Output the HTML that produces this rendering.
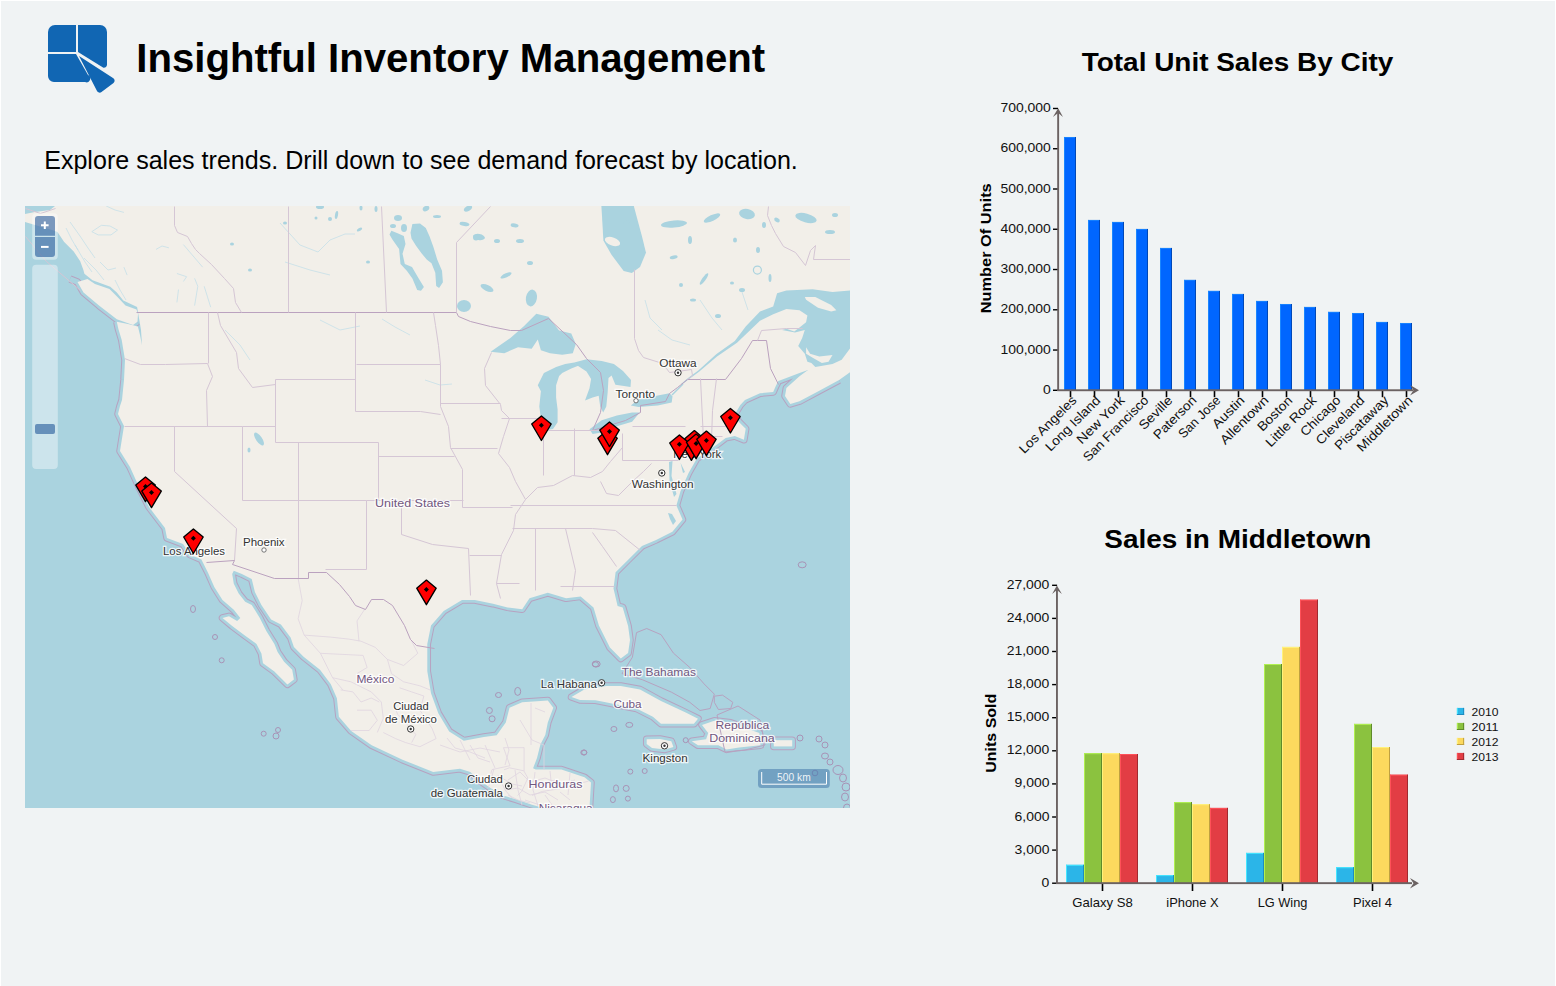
<!DOCTYPE html>
<html><head><meta charset="utf-8"><style>
html,body{margin:0;padding:0;background:#fff;width:1556px;height:986px;overflow:hidden}
#pg{position:absolute;left:1px;top:1px;width:1554px;height:985px;background:#f0f3f4}
.t{position:absolute;font-family:"Liberation Sans",sans-serif;white-space:nowrap;color:#000}
svg{position:absolute;left:0;top:0}
</style></head><body>
<div id="pg"></div>
<svg width="1556" height="986" viewBox="0 0 1556 986" font-family="Liberation Sans, sans-serif">
<defs><clipPath id="mapclip"><rect x="25" y="206" width="825" height="602"/></clipPath></defs>
<path d="M48,32 a7,7 0 0 1 7,-7 h21 v27 h-28z" fill="#1166b3"/>
<path d="M78,25 h22 a7,7 0 0 1 7,7 v33 a3,3 0 0 1 -4,2.5 l-25,-15.5z" fill="#1166b3"/>
<path d="M48,54 h28 l12,21 a3,3 0 0 1 -3,7 h-31 a6,6 0 0 1 -6,-6z" fill="#1166b3"/>
<path d="M79,56 l34,22 a3,3 0 0 1 0.5,5 l-12,9 a3,3 0 0 1 -4.5,-1z" fill="#1166b3"/>
<rect x="25" y="206" width="825" height="602" fill="#aad3df"/>
<g clip-path="url(#mapclip)">
<path d="M839.1,380.1 L819.3,390.7 L799.5,401.2 L790.3,403.9 L785.0,396.0 L786.4,388.0 L799.5,376.2 L808.0,370.0 L799.5,373.0 L786.4,378.0 L778.4,381.0 L775.8,386.0 L773.2,392.0 L760.0,393.3 L745.0,400.0 L740.3,405.0 L734.8,414.2 L738.4,421.5 L745.7,428.8 L743.9,439.7 L734.8,436.1 L725.7,437.9 L717.0,444.5 L696.7,458.7 L688.6,473.0 L680.5,491.2 L676.4,505.4 L682.5,519.6 L672.4,531.8 L656.1,539.9 L642.0,546.0 L627.7,560.2 L615.6,572.3 L613.5,588.6 L617.6,606.0 L622.7,607.4 L628.1,626.0 L630.0,640.0 L628.1,653.0 L620.8,658.5 L609.9,647.6 L598.9,625.6 L593.5,607.4 L580.7,596.4 L566.1,598.3 L547.8,592.8 L529.5,598.3 L522.2,609.2 L507.6,607.4 L493.0,603.7 L474.8,600.1 L462.0,600.1 L443.7,611.0 L431.0,625.6 L427.3,643.9 L427.3,671.3 L431.0,693.2 L438.3,713.3 L449.2,731.5 L463.8,740.7 L483.9,737.0 L496.7,735.2 L505.8,722.4 L509.5,707.8 L522.2,702.3 L547.8,700.5 L553.3,707.8 L547.8,722.4 L545.3,735.0 L540.5,744.3 L539.5,748.0 L537.0,758.0 L533.1,768.3 L535.7,769.6 L561.4,769.6 L584.5,777.3 L591.0,782.4 L589.7,804.3 L589.6,812.0 L539.2,812.0" fill="none" stroke="#b7a2c0" stroke-width="7.5" stroke-linejoin="round"/>
<path d="M539.2,806.8 L532.0,804.8 L516.6,799.6 L503.2,795.5 L490.8,788.3 L480.6,781.1 L470.3,771.9 L460.0,768.8 L433.2,772.0 L402.5,759.7 L371.7,745.3 L351.2,731.0 L338.9,716.7 L336.9,698.2 L330.7,683.9 L320.0,669.8 L303.6,656.8 L293.9,647.1 L290.6,637.4 L280.9,624.4 L271.1,619.5 L261.4,604.9 L254.9,591.9 L251.7,579.0 L241.9,574.1 L233.8,570.8 L232.2,574.1 L233.8,583.8 L238.7,593.6 L245.2,601.7 L251.7,604.9 L259.8,617.9 L266.3,630.9 L274.4,643.9 L277.6,652.0 L284.1,661.7 L292.2,669.8 L293.9,679.6 L287.4,684.4 L274.4,671.5 L263.0,663.3 L261.4,653.6 L256.5,643.9 L245.2,635.7 L232.2,626.0 L222.5,617.9 L229.0,616.3 L237.1,621.1 L240.3,617.9 L233.8,609.8 L222.5,600.0 L214.3,587.1 L207.9,572.5 L203.0,562.7 L201.4,559.5 L190.0,554.6 L183.0,544.0 L167.0,538.0 L165.0,528.0 L149.0,507.0 L139.0,487.0 L130.0,467.0 L120.0,451.0 L124.0,426.0 L118.0,414.0 L120.0,406.0 L122.0,400.0 L124.0,380.0 L125.0,360.0 L121.7,340.0 L118.4,329.0 L116.8,321.7" fill="none" stroke="#b7a2c0" stroke-width="7.5" stroke-linejoin="round"/>
<path d="M137.5,321.7 L133.0,324.9 L116.8,319.3 L99.0,305.5 L83.5,292.5 L77.5,282.0 L70.0,279.0" fill="none" stroke="#b7a2c0" stroke-width="7.5" stroke-linejoin="round"/>
<path d="M571.5,697.0 L584.3,689.5 L606.2,686.0 L620.8,686.0 L640.0,689.5 L661.0,701.0 L685.7,712.6 L698.0,718.7 L693.9,723.8 L661.0,723.8 L652.9,716.7 L636.5,708.5 L605.7,702.3 L595.5,700.3 L580.0,700.0Z" fill="none" stroke="#b7a2c0" stroke-width="7.5" stroke-linejoin="round"/>
<path d="M646.7,739.2 L660.0,739.0 L671.3,741.2 L673.4,747.0 L665.0,749.4 L652.0,748.0 L646.7,744.0Z" fill="none" stroke="#b7a2c0" stroke-width="7.5" stroke-linejoin="round"/>
<path d="M702.0,724.9 L714.3,720.8 L730.7,722.8 L759.4,733.0 L760.5,745.3 L739.0,747.4 L726.6,749.4 L718.4,745.3 L698.0,745.3 L691.8,741.2 L706.1,739.2 L708.2,733.0Z" fill="none" stroke="#b7a2c0" stroke-width="7.5" stroke-linejoin="round"/>
<path d="M773.8,740.2 L792.2,740.2 L792.2,746.4 L773.8,746.4Z" fill="none" stroke="#b7a2c0" stroke-width="7.5" stroke-linejoin="round"/>
<path d="M839.1,380.1 L819.3,390.7 L799.5,401.2 L790.3,403.9 L785.0,396.0 L786.4,388.0 L799.5,376.2 L808.0,370.0 L799.5,373.0 L786.4,378.0 L778.4,381.0 L775.8,386.0 L773.2,392.0 L760.0,393.3 L745.0,400.0 L740.3,405.0 L734.8,414.2 L738.4,421.5 L745.7,428.8 L743.9,439.7 L734.8,436.1 L725.7,437.9 L717.0,444.5 L696.7,458.7 L688.6,473.0 L680.5,491.2 L676.4,505.4 L682.5,519.6 L672.4,531.8 L656.1,539.9 L642.0,546.0 L627.7,560.2 L615.6,572.3 L613.5,588.6 L617.6,606.0 L622.7,607.4 L628.1,626.0 L630.0,640.0 L628.1,653.0 L620.8,658.5 L609.9,647.6 L598.9,625.6 L593.5,607.4 L580.7,596.4 L566.1,598.3 L547.8,592.8 L529.5,598.3 L522.2,609.2 L507.6,607.4 L493.0,603.7 L474.8,600.1 L462.0,600.1 L443.7,611.0 L431.0,625.6 L427.3,643.9 L427.3,671.3 L431.0,693.2 L438.3,713.3 L449.2,731.5 L463.8,740.7 L483.9,737.0 L496.7,735.2 L505.8,722.4 L509.5,707.8 L522.2,702.3 L547.8,700.5 L553.3,707.8 L547.8,722.4 L545.3,735.0 L540.5,744.3 L539.5,748.0 L537.0,758.0 L533.1,768.3 L535.7,769.6 L561.4,769.6 L584.5,777.3 L591.0,782.4 L589.7,804.3 L589.6,812.0 L539.2,812.0" fill="none" stroke="#aad3df" stroke-width="5.5" stroke-linejoin="round"/>
<path d="M539.2,806.8 L532.0,804.8 L516.6,799.6 L503.2,795.5 L490.8,788.3 L480.6,781.1 L470.3,771.9 L460.0,768.8 L433.2,772.0 L402.5,759.7 L371.7,745.3 L351.2,731.0 L338.9,716.7 L336.9,698.2 L330.7,683.9 L320.0,669.8 L303.6,656.8 L293.9,647.1 L290.6,637.4 L280.9,624.4 L271.1,619.5 L261.4,604.9 L254.9,591.9 L251.7,579.0 L241.9,574.1 L233.8,570.8 L232.2,574.1 L233.8,583.8 L238.7,593.6 L245.2,601.7 L251.7,604.9 L259.8,617.9 L266.3,630.9 L274.4,643.9 L277.6,652.0 L284.1,661.7 L292.2,669.8 L293.9,679.6 L287.4,684.4 L274.4,671.5 L263.0,663.3 L261.4,653.6 L256.5,643.9 L245.2,635.7 L232.2,626.0 L222.5,617.9 L229.0,616.3 L237.1,621.1 L240.3,617.9 L233.8,609.8 L222.5,600.0 L214.3,587.1 L207.9,572.5 L203.0,562.7 L201.4,559.5 L190.0,554.6 L183.0,544.0 L167.0,538.0 L165.0,528.0 L149.0,507.0 L139.0,487.0 L130.0,467.0 L120.0,451.0 L124.0,426.0 L118.0,414.0 L120.0,406.0 L122.0,400.0 L124.0,380.0 L125.0,360.0 L121.7,340.0 L118.4,329.0 L116.8,321.7" fill="none" stroke="#aad3df" stroke-width="5.5" stroke-linejoin="round"/>
<path d="M137.5,321.7 L133.0,324.9 L116.8,319.3 L99.0,305.5 L83.5,292.5 L77.5,282.0 L70.0,279.0" fill="none" stroke="#aad3df" stroke-width="5.5" stroke-linejoin="round"/>
<path d="M571.5,697.0 L584.3,689.5 L606.2,686.0 L620.8,686.0 L640.0,689.5 L661.0,701.0 L685.7,712.6 L698.0,718.7 L693.9,723.8 L661.0,723.8 L652.9,716.7 L636.5,708.5 L605.7,702.3 L595.5,700.3 L580.0,700.0Z" fill="none" stroke="#aad3df" stroke-width="5.5" stroke-linejoin="round"/>
<path d="M646.7,739.2 L660.0,739.0 L671.3,741.2 L673.4,747.0 L665.0,749.4 L652.0,748.0 L646.7,744.0Z" fill="none" stroke="#aad3df" stroke-width="5.5" stroke-linejoin="round"/>
<path d="M702.0,724.9 L714.3,720.8 L730.7,722.8 L759.4,733.0 L760.5,745.3 L739.0,747.4 L726.6,749.4 L718.4,745.3 L698.0,745.3 L691.8,741.2 L706.1,739.2 L708.2,733.0Z" fill="none" stroke="#aad3df" stroke-width="5.5" stroke-linejoin="round"/>
<path d="M773.8,740.2 L792.2,740.2 L792.2,746.4 L773.8,746.4Z" fill="none" stroke="#aad3df" stroke-width="5.5" stroke-linejoin="round"/>
<path d="M56.0,206.0 L850.0,206.0 L850.0,290.5 L832.5,291.9 L812.7,289.2 L786.4,290.5 L777.1,293.2 L773.2,306.4 L760.0,311.6 L745.7,326.5 L734.8,341.1 L716.5,353.9 L698.3,370.4 L688.0,378.0 L681.0,384.0 L682.5,384.0 L699.0,371.8 L717.0,356.5 L737.0,342.8 L760.0,320.8 L773.2,314.3 L786.4,309.0 L799.5,310.3 L807.4,315.6 L806.1,322.2 L799.5,327.4 L794.3,331.4 L786.4,328.8 L782.0,330.0 L795.0,332.5 L804.8,330.1 L802.2,338.0 L798.2,345.9 L804.8,353.8 L807.4,361.7 L811.4,363.0 L815.3,367.0 L832.5,364.0 L841.7,359.7 L850.0,348.5 L850.0,372.2 L839.1,380.1 L819.3,390.7 L799.5,401.2 L790.3,403.9 L785.0,396.0 L786.4,388.0 L799.5,376.2 L808.0,370.0 L799.5,373.0 L786.4,378.0 L778.4,381.0 L775.8,386.0 L773.2,392.0 L760.0,393.3 L745.0,400.0 L740.3,405.0 L734.8,414.2 L738.4,421.5 L745.7,428.8 L743.9,439.7 L734.8,436.1 L725.7,437.9 L717.0,444.5 L696.7,458.7 L688.6,473.0 L680.5,491.2 L676.4,505.4 L682.5,519.6 L672.4,531.8 L656.1,539.9 L642.0,546.0 L627.7,560.2 L615.6,572.3 L613.5,588.6 L617.6,606.0 L622.7,607.4 L628.1,626.0 L630.0,640.0 L628.1,653.0 L620.8,658.5 L609.9,647.6 L598.9,625.6 L593.5,607.4 L580.7,596.4 L566.1,598.3 L547.8,592.8 L529.5,598.3 L522.2,609.2 L507.6,607.4 L493.0,603.7 L474.8,600.1 L462.0,600.1 L443.7,611.0 L431.0,625.6 L427.3,643.9 L427.3,671.3 L431.0,693.2 L438.3,713.3 L449.2,731.5 L463.8,740.7 L483.9,737.0 L496.7,735.2 L505.8,722.4 L509.5,707.8 L522.2,702.3 L547.8,700.5 L553.3,707.8 L547.8,722.4 L545.3,735.0 L540.5,744.3 L539.5,748.0 L537.0,758.0 L533.1,768.3 L535.7,769.6 L561.4,769.6 L584.5,777.3 L591.0,782.4 L589.7,804.3 L589.6,812.0 L539.2,812.0 L539.2,806.8 L532.0,804.8 L516.6,799.6 L503.2,795.5 L490.8,788.3 L480.6,781.1 L470.3,771.9 L460.0,768.8 L433.2,772.0 L402.5,759.7 L371.7,745.3 L351.2,731.0 L338.9,716.7 L336.9,698.2 L330.7,683.9 L320.0,669.8 L303.6,656.8 L293.9,647.1 L290.6,637.4 L280.9,624.4 L271.1,619.5 L261.4,604.9 L254.9,591.9 L251.7,579.0 L241.9,574.1 L233.8,570.8 L232.2,574.1 L233.8,583.8 L238.7,593.6 L245.2,601.7 L251.7,604.9 L259.8,617.9 L266.3,630.9 L274.4,643.9 L277.6,652.0 L284.1,661.7 L292.2,669.8 L293.9,679.6 L287.4,684.4 L274.4,671.5 L263.0,663.3 L261.4,653.6 L256.5,643.9 L245.2,635.7 L232.2,626.0 L222.5,617.9 L229.0,616.3 L237.1,621.1 L240.3,617.9 L233.8,609.8 L222.5,600.0 L214.3,587.1 L207.9,572.5 L203.0,562.7 L201.4,559.5 L190.0,554.6 L183.0,544.0 L167.0,538.0 L165.0,528.0 L149.0,507.0 L139.0,487.0 L130.0,467.0 L120.0,451.0 L124.0,426.0 L118.0,414.0 L120.0,406.0 L122.0,400.0 L124.0,380.0 L125.0,360.0 L121.7,340.0 L118.4,329.0 L116.8,321.7 L128.0,324.0 L137.9,326.6 L140.0,335.0 L142.0,345.0 L141.0,330.0 L139.0,318.0 L137.1,307.1 L123.3,300.6 L116.8,292.5 L110.3,286.8 L92.5,280.3 L84.4,273.8 L83.4,270.0 L80.2,261.2 L73.7,251.5 L64.0,241.7 L57.5,232.0 L52.0,230.0 L45.0,228.0 L35.0,225.0 L25.0,222.0 L25.0,214.0 L35.0,212.0 L50.0,210.0 L55.0,206.0Z" fill="#f2efe9"/>
<path d="M77.5,282.0 L87.5,279.0 L95.0,284.0 L109.5,289.0 L117.5,297.0 L125.5,305.5 L136.5,309.5 L138.0,314.0 L137.5,321.7 L133.0,324.9 L116.8,319.3 L99.0,305.5 L83.5,292.5Z" fill="#f2efe9"/>
<path d="M804.8,297.1 L815.3,297.1 L831.2,305.0 L836.4,310.3 L831.2,311.6 L818.0,307.7 L806.1,299.8Z" fill="#f2efe9"/>
<path d="M806.1,347.2 L810.1,353.8 L819.3,356.4 L832.5,355.1 L828.5,361.7 L821.9,363.0 L812.7,357.7 L806.1,353.8Z" fill="#f2efe9"/>
<path d="M571.5,697.0 L584.3,689.5 L606.2,686.0 L620.8,686.0 L640.0,689.5 L661.0,701.0 L685.7,712.6 L698.0,718.7 L693.9,723.8 L661.0,723.8 L652.9,716.7 L636.5,708.5 L605.7,702.3 L595.5,700.3 L580.0,700.0Z" fill="#f2efe9"/>
<path d="M646.7,739.2 L660.0,739.0 L671.3,741.2 L673.4,747.0 L665.0,749.4 L652.0,748.0 L646.7,744.0Z" fill="#f2efe9"/>
<path d="M702.0,724.9 L714.3,720.8 L730.7,722.8 L759.4,733.0 L760.5,745.3 L739.0,747.4 L726.6,749.4 L718.4,745.3 L698.0,745.3 L691.8,741.2 L706.1,739.2 L708.2,733.0Z" fill="#f2efe9"/>
<path d="M773.8,740.2 L792.2,740.2 L792.2,746.4 L773.8,746.4Z" fill="#f2efe9"/>
<path d="M601.4,206.0 L633.8,206.0 L642.0,236.4 L646.0,252.7 L640.0,266.9 L631.8,273.0 L623.7,271.0 L611.5,254.7 L603.4,240.5Z" fill="#aad3df"/>
<path d="M412.4,224.1 L420.0,223.6 L425.8,227.9 L429.6,236.5 L433.4,247.0 L437.2,259.4 L442.0,270.8 L442.9,282.3 L439.1,288.0 L436.2,286.1 L435.3,272.7 L433.4,268.0 L431.5,263.2 L426.7,259.4 L421.9,253.7 L416.2,246.0 L411.5,238.4 L410.5,232.7Z" fill="#aad3df"/>
<path d="M391.4,230.8 L397.0,233.0 L403.8,236.0 L405.5,244.1 L402.5,253.7 L404.8,264.0 L412.0,267.0 L418.1,277.5 L423.9,287.0 L421.0,290.8 L417.2,289.9 L412.4,278.5 L407.0,271.0 L400.5,264.0 L399.1,249.0 L392.4,239.4 L389.5,234.6Z" fill="#aad3df"/>
<path d="M669.0,462.0 L672.5,461.0 L671.5,476.0 L676.5,494.0 L674.0,497.0 L669.5,480.0Z" fill="#aad3df"/>
<path d="M680.5,462.8 L685.0,472.0 L683.0,473.0Z" fill="#aad3df"/>
<path d="M668.0,513.0 L672.0,514.0 L676.0,521.0 L673.0,525.0 L670.0,519.0Z" fill="#aad3df"/>
<path d="M490.6,351.7 L510.4,338.0 L524.1,325.9 L536.3,313.7 L548.5,316.7 L559.1,330.4 L571.3,333.5 L575.8,344.1 L572.8,353.2 L562.2,354.8 L550.0,353.2 L540.9,350.2 L537.8,339.6 L531.7,348.7 L518.0,347.2 L504.3,353.2Z" fill="#aad3df"/>
<path d="M537.8,385.2 L543.9,373.0 L556.1,366.9 L565.2,363.9 L574.3,362.4 L578.9,365.4 L571.3,368.5 L562.2,373.0 L559.1,376.1 L556.1,385.2 L556.1,397.4 L557.6,409.5 L557.6,422.2 L553.0,429.0 L547.0,430.0 L541.5,423.0 L539.3,406.5 L540.9,391.3Z" fill="#aad3df"/>
<path d="M574.3,362.4 L586.5,359.3 L601.7,360.9 L613.9,363.9 L623.0,371.0 L631.0,380.0 L630.5,387.0 L624.0,386.0 L615.4,384.7 L611.6,375.4 L608.5,378.0 L607.7,392.0 L606.3,406.5 L603.2,412.6 L600.2,406.5 L598.7,395.8 L592.6,397.4 L585.0,400.4 L589.5,388.2 L591.1,379.1 L586.5,371.5 L577.4,365.4Z" fill="#aad3df"/>
<path d="M589.5,429.3 L601.7,420.2 L616.9,415.6 L632.1,412.6 L639.7,412.6 L632.1,421.7 L616.9,426.3 L601.7,432.4 L592.6,433.9Z" fill="#aad3df"/>
<path d="M630.8,405.5 L638.6,399.3 L654.0,396.3 L669.4,393.2 L672.5,396.3 L671.7,402.4 L657.8,405.5 L638.6,407.1Z" fill="#aad3df"/>
<ellipse cx="612.5" cy="241.5" rx="8" ry="4" transform="rotate(20 612.5 241.5)" fill="#f2efe9"/>
<circle cx="757.4" cy="270.1" r="4" fill="none" stroke="#aad3df" stroke-width="1.2"/>
<path d="M672,395 L683,384" stroke="#aad3df" stroke-width="1.4" fill="none"/>
<ellipse cx="531.4" cy="298" rx="5.5" ry="8.5" transform="rotate(10 531.4 298)" fill="#aad3df"/>
<ellipse cx="464" cy="306" rx="7" ry="6" transform="rotate(0 464 306)" fill="#aad3df"/>
<ellipse cx="514.6" cy="225.4" rx="4" ry="2" transform="rotate(10 514.6 225.4)" fill="#aad3df"/>
<ellipse cx="479" cy="237" rx="6" ry="3" transform="rotate(10 479 237)" fill="#aad3df"/>
<ellipse cx="487" cy="288" rx="7" ry="3" transform="rotate(25 487 288)" fill="#aad3df"/>
<ellipse cx="506" cy="275.4" rx="6" ry="2" transform="rotate(-25 506 275.4)" fill="#aad3df"/>
<ellipse cx="464.5" cy="224" rx="5" ry="2" transform="rotate(10 464.5 224)" fill="#aad3df"/>
<ellipse cx="497" cy="241" rx="3" ry="2" transform="rotate(0 497 241)" fill="#aad3df"/>
<ellipse cx="520" cy="241" rx="4" ry="2" transform="rotate(0 520 241)" fill="#aad3df"/>
<ellipse cx="530" cy="263" rx="3" ry="2" transform="rotate(0 530 263)" fill="#aad3df"/>
<ellipse cx="320" cy="207" rx="4" ry="2" transform="rotate(0 320 207)" fill="#aad3df"/>
<ellipse cx="336.5" cy="215" rx="1.5" ry="4" transform="rotate(10 336.5 215)" fill="#aad3df"/>
<ellipse cx="376" cy="209" rx="1.5" ry="3" transform="rotate(0 376 209)" fill="#aad3df"/>
<ellipse cx="361" cy="208" rx="1.5" ry="2.5" transform="rotate(0 361 208)" fill="#aad3df"/>
<ellipse cx="359.5" cy="229.5" rx="3" ry="1.5" transform="rotate(-30 359.5 229.5)" fill="#aad3df"/>
<ellipse cx="426" cy="208.5" rx="3.5" ry="2.5" transform="rotate(-30 426 208.5)" fill="#aad3df"/>
<ellipse cx="437" cy="216.6" rx="4" ry="1.5" transform="rotate(0 437 216.6)" fill="#aad3df"/>
<ellipse cx="468" cy="208.5" rx="4.5" ry="2.5" transform="rotate(-30 468 208.5)" fill="#aad3df"/>
<ellipse cx="476" cy="237.5" rx="3" ry="3" transform="rotate(0 476 237.5)" fill="#aad3df"/>
<ellipse cx="398" cy="218" rx="4" ry="3" transform="rotate(0 398 218)" fill="#aad3df"/>
<ellipse cx="404" cy="228" rx="3" ry="4" transform="rotate(0 404 228)" fill="#aad3df"/>
<ellipse cx="393" cy="226" rx="3" ry="2" transform="rotate(0 393 226)" fill="#aad3df"/>
<ellipse cx="330" cy="219" rx="2" ry="2" transform="rotate(0 330 219)" fill="#aad3df"/>
<ellipse cx="316" cy="218" rx="1.5" ry="1.5" transform="rotate(0 316 218)" fill="#aad3df"/>
<ellipse cx="368" cy="262" rx="2" ry="1.5" transform="rotate(0 368 262)" fill="#aad3df"/>
<ellipse cx="674" cy="224" rx="13" ry="3.5" transform="rotate(-5 674 224)" fill="#aad3df"/>
<ellipse cx="712" cy="218" rx="9" ry="3" transform="rotate(-25 712 218)" fill="#aad3df"/>
<ellipse cx="747" cy="214" rx="8" ry="5" transform="rotate(10 747 214)" fill="#aad3df"/>
<ellipse cx="806" cy="218" rx="11" ry="4.5" transform="rotate(15 806 218)" fill="#aad3df"/>
<ellipse cx="673.7" cy="257.3" rx="4" ry="1.8" transform="rotate(-10 673.7 257.3)" fill="#aad3df"/>
<ellipse cx="704" cy="279" rx="7" ry="1.8" transform="rotate(-55 704 279)" fill="#aad3df"/>
<ellipse cx="732" cy="283" rx="2" ry="1.5" transform="rotate(0 732 283)" fill="#aad3df"/>
<ellipse cx="735" cy="240" rx="2" ry="2.5" transform="rotate(0 735 240)" fill="#aad3df"/>
<ellipse cx="758" cy="250" rx="2" ry="3" transform="rotate(0 758 250)" fill="#aad3df"/>
<ellipse cx="770" cy="278" rx="1.5" ry="4" transform="rotate(0 770 278)" fill="#aad3df"/>
<ellipse cx="742" cy="290" rx="3" ry="2" transform="rotate(0 742 290)" fill="#aad3df"/>
<ellipse cx="718" cy="316" rx="3" ry="2" transform="rotate(0 718 316)" fill="#aad3df"/>
<ellipse cx="681" cy="285" rx="2" ry="2" transform="rotate(0 681 285)" fill="#aad3df"/>
<ellipse cx="693" cy="300" rx="3" ry="1.5" transform="rotate(0 693 300)" fill="#aad3df"/>
<ellipse cx="627" cy="222" rx="4" ry="1.5" transform="rotate(-10 627 222)" fill="#aad3df"/>
<ellipse cx="830" cy="232" rx="5" ry="2" transform="rotate(0 830 232)" fill="#aad3df"/>
<ellipse cx="835" cy="215" rx="3" ry="2" transform="rotate(0 835 215)" fill="#aad3df"/>
<ellipse cx="777" cy="220" rx="3" ry="2" transform="rotate(30 777 220)" fill="#aad3df"/>
<ellipse cx="764" cy="225" rx="2" ry="3" transform="rotate(0 764 225)" fill="#aad3df"/>
<ellipse cx="690" cy="240" rx="2" ry="4" transform="rotate(0 690 240)" fill="#aad3df"/>
<ellipse cx="259" cy="439" rx="3" ry="7.5" transform="rotate(-35 259 439)" fill="#aad3df"/>
<ellipse cx="249" cy="450" rx="1.5" ry="2.5" transform="rotate(0 249 450)" fill="#aad3df"/>
<ellipse cx="285" cy="223" rx="2" ry="1.5" transform="rotate(0 285 223)" fill="#aad3df"/>
<ellipse cx="232" cy="244" rx="2" ry="1.5" transform="rotate(0 232 244)" fill="#aad3df"/>
<ellipse cx="250" cy="270" rx="2" ry="1.5" transform="rotate(0 250 270)" fill="#aad3df"/>
<path d="M91.8,231.7 L101.4,225.3 L110.0,226.0 L117.5,230.1 L111.0,234.9 L98.2,234.9 L91.8,231.7" fill="none" stroke="#c5dfe8" stroke-width="0.8"/>
<path d="M156.0,249.4 L162.0,246.0 L168.9,247.8" fill="none" stroke="#c5dfe8" stroke-width="0.8"/>
<path d="M176.9,273.5 L186.6,276.7 L183.4,281.5" fill="none" stroke="#c5dfe8" stroke-width="0.8"/>
<path d="M194.6,278.3 L197.8,286.3 L194.6,305.6" fill="none" stroke="#c5dfe8" stroke-width="0.8"/>
<path d="M204.2,286.3 L210.7,307.2" fill="none" stroke="#c5dfe8" stroke-width="0.8"/>
<path d="M178.5,289.5 L176.9,302.4" fill="none" stroke="#c5dfe8" stroke-width="0.8"/>
<path d="M183.4,244.6 L202.6,267.1" fill="none" stroke="#c5dfe8" stroke-width="0.8"/>
<path d="M123.9,267.1 L127.1,275.1" fill="none" stroke="#c5dfe8" stroke-width="0.8"/>
<path d="M106.2,206.0 L115.0,210.0 L123.9,212.4" fill="none" stroke="#c5dfe8" stroke-width="0.8"/>
<path d="M66.0,228.0 L72.0,240.0 L78.0,250.0" fill="none" stroke="#c5dfe8" stroke-width="0.8"/>
<path d="M70.0,222.0 L80.0,236.0 L88.0,248.0 L95.0,258.0" fill="none" stroke="#c5dfe8" stroke-width="0.8"/>
<path d="M75.0,245.0 L85.0,262.0 L92.0,272.0" fill="none" stroke="#c5dfe8" stroke-width="0.8"/>
<path d="M84.0,258.0 L96.0,270.0 L104.0,280.0" fill="none" stroke="#c5dfe8" stroke-width="0.8"/>
<path d="M100.0,262.0 L108.0,270.0 L116.0,268.0" fill="none" stroke="#c5dfe8" stroke-width="0.8"/>
<path d="M115.0,280.0 L120.0,290.0 L126.0,300.0" fill="none" stroke="#c5dfe8" stroke-width="0.8"/>
<path d="M280.0,223.0 L300.0,245.0 L318.0,252.0 L330.0,240.0 L345.0,234.0 L355.0,234.0" fill="none" stroke="#c5dfe8" stroke-width="0.8"/>
<path d="M285.0,262.0 L310.0,270.0 L330.0,275.0" fill="none" stroke="#c5dfe8" stroke-width="0.8"/>
<path d="M320.0,320.0 L340.0,330.0 L360.0,326.0" fill="none" stroke="#c5dfe8" stroke-width="0.8"/>
<path d="M425.0,380.0 L440.0,385.0 L452.0,384.0" fill="none" stroke="#c5dfe8" stroke-width="0.8"/>
<path d="M382.0,319.0 L395.0,327.0 L410.0,335.0" fill="none" stroke="#c5dfe8" stroke-width="0.8"/>
<path d="M225.0,330.0 L240.0,345.0 L250.0,360.0" fill="none" stroke="#c5dfe8" stroke-width="0.8"/>
<path d="M658.0,330.0 L672.0,340.0 L690.0,345.0" fill="none" stroke="#c5dfe8" stroke-width="0.8"/>
<path d="M645.0,300.0 L650.0,318.0 L662.0,330.0" fill="none" stroke="#c5dfe8" stroke-width="0.8"/>
<path d="M700.0,300.0 L712.0,318.0 L722.0,330.0" fill="none" stroke="#c5dfe8" stroke-width="0.8"/>
<path d="M742.0,292.0 L748.0,310.0" fill="none" stroke="#c5dfe8" stroke-width="0.8"/>
<path d="M298.1,578.3 L302.2,600.6 L298.1,618.8 L304.2,635.1 L320.4,653.3 L332.6,677.7 L342.8,689.9" fill="none" stroke="#e0d4e0" stroke-width="0.8"/>
<path d="M304.2,635.1 L330.6,637.1 L348.8,639.1 L361.0,641.2 L375.2,647.3 L387.4,659.4 L403.6,665.5 L417.8,653.3 L411.7,641.2" fill="none" stroke="#e0d4e0" stroke-width="0.8"/>
<path d="M365.1,608.7 L357.0,620.9 L359.0,641.2" fill="none" stroke="#e0d4e0" stroke-width="0.8"/>
<path d="M320.4,653.3 L363.1,655.4 L367.1,667.5 L357.0,673.6" fill="none" stroke="#e0d4e0" stroke-width="0.8"/>
<path d="M387.4,659.4 L391.5,673.6 L403.6,681.8 L419.9,685.8 L430.0,689.9" fill="none" stroke="#e0d4e0" stroke-width="0.8"/>
<path d="M332.6,677.7 L350.9,681.8 L371.2,691.9 L381.3,702.0 L383.3,718.3 L377.3,732.5" fill="none" stroke="#e0d4e0" stroke-width="0.8"/>
<path d="M340.7,689.9 L352.9,691.9 L361.0,702.0 L371.2,698.0 L379.3,702.0" fill="none" stroke="#e0d4e0" stroke-width="0.8"/>
<path d="M357.0,710.2 L371.2,710.2 L377.3,720.3 L369.1,730.5 L350.9,730.5" fill="none" stroke="#e0d4e0" stroke-width="0.8"/>
<path d="M399.6,687.8 L411.7,691.9 L423.9,696.0 L419.9,710.2 L432.0,728.4 L436.1,738.6" fill="none" stroke="#e0d4e0" stroke-width="0.8"/>
<path d="M393.5,702.0 L397.5,714.2 L403.6,720.3 L415.8,734.5 L411.7,742.6" fill="none" stroke="#e0d4e0" stroke-width="0.8"/>
<path d="M383.3,732.5 L395.5,738.6 L405.7,742.6 L419.9,746.7 L436.1,738.6" fill="none" stroke="#e0d4e0" stroke-width="0.8"/>
<path d="M447.0,738.0 L455.0,748.0 L470.0,752.0 L485.0,758.0" fill="none" stroke="#e0d4e0" stroke-width="0.8"/>
<path d="M470.0,745.0 L478.0,758.0 L490.0,762.0" fill="none" stroke="#e0d4e0" stroke-width="0.8"/>
<path d="M505.0,738.0 L509.0,750.0 L505.0,765.0" fill="none" stroke="#e0d4e0" stroke-width="0.8"/>
<path d="M504.0,769.8 L509.4,767.8 L523.8,770.8" fill="none" stroke="#e0d4e0" stroke-width="0.8"/>
<path d="M493.9,768.8 L490.8,781.1 L487.8,788.3" fill="none" stroke="#e0d4e0" stroke-width="0.8"/>
<path d="M523.8,770.8 L527.9,778.0 L521.7,791.4 L517.6,795.5" fill="none" stroke="#e0d4e0" stroke-width="0.8"/>
<path d="M532.0,795.5 L542.3,791.4 L562.8,788.3 L573.1,785.2 L588.5,781.1" fill="none" stroke="#e0d4e0" stroke-width="0.8"/>
<path d="M502.0,778.0 L512.0,784.0 L522.0,786.0" fill="none" stroke="#e0d4e0" stroke-width="0.8"/>
<path d="M528.0,782.0 L540.0,785.0 L555.0,780.0" fill="none" stroke="#e0d4e0" stroke-width="0.8"/>
<path d="M508.0,795.0 L518.0,800.0 L530.0,803.0" fill="none" stroke="#e0d4e0" stroke-width="0.8"/>
<path d="M545.0,795.0 L552.0,805.0" fill="none" stroke="#e0d4e0" stroke-width="0.8"/>
<path d="M560.0,792.0 L570.0,800.0" fill="none" stroke="#e0d4e0" stroke-width="0.8"/>
<path d="M535.0,708.0 L545.0,712.0" fill="none" stroke="#e0d4e0" stroke-width="0.8"/>
<path d="M520.0,720.0 L532.0,740.0 L544.0,745.0" fill="none" stroke="#e0d4e0" stroke-width="0.8"/>
<path d="M531.0,703.0 L531.0,745.0" fill="none" stroke="#e0d4e0" stroke-width="0.8"/>
<path d="M544.0,745.0 L544.0,770.0" fill="none" stroke="#e0d4e0" stroke-width="0.8"/>
<path d="M503.5,747.7 L524.1,747.7 L524.1,770.8" fill="none" stroke="#e0d4e0" stroke-width="0.8"/>
<path d="M503.5,747.7 L510.0,765.7 L492.0,769.6 L489.4,778.6" fill="none" stroke="#e0d4e0" stroke-width="0.8"/>
<path d="M508.0,780.0 L520.0,772.0 L530.0,782.0 L545.0,778.0 L560.0,784.0 L575.0,780.0" fill="none" stroke="#e0d4e0" stroke-width="0.8"/>
<path d="M505.0,790.0 L518.0,788.0 L530.0,795.0 L545.0,792.0 L558.0,800.0" fill="none" stroke="#e0d4e0" stroke-width="0.8"/>
<path d="M515.0,770.0 L518.0,790.0 L522.0,805.0" fill="none" stroke="#e0d4e0" stroke-width="0.8"/>
<path d="M535.0,772.0 L533.0,790.0 L538.0,806.0" fill="none" stroke="#e0d4e0" stroke-width="0.8"/>
<path d="M550.0,771.0 L552.0,790.0" fill="none" stroke="#e0d4e0" stroke-width="0.8"/>
<path d="M570.0,773.0 L568.0,795.0" fill="none" stroke="#e0d4e0" stroke-width="0.8"/>
<path d="M525.0,800.0 L540.0,805.0" fill="none" stroke="#e0d4e0" stroke-width="0.8"/>
<path d="M498.0,775.0 L505.0,790.0 L512.0,798.0" fill="none" stroke="#e0d4e0" stroke-width="0.8"/>
<path d="M440.0,745.0 L460.0,752.0 L480.0,748.0 L500.0,752.0" fill="none" stroke="#e0d4e0" stroke-width="0.8"/>
<path d="M460.0,740.0 L470.0,760.0" fill="none" stroke="#e0d4e0" stroke-width="0.8"/>
<path d="M485.0,745.0 L495.0,768.0" fill="none" stroke="#e0d4e0" stroke-width="0.8"/>
<path d="M136.5,312.5 L456.5,312.5 L458.5,316.5 L470.5,321.5 L490.5,326.5 L510.5,330.5 L521.5,330.5 L548.5,318.5 L576.5,344.5 L586.5,358.5 L600.5,372.5 L603.5,390.5 L600.5,412.5 L592.5,430.5 L625.5,420.5 L640.5,412.5 L640.5,405.5 L665.5,401.5 L669.5,393.5 L677.5,387.5 L687.5,379.5 L725.5,379.5 L741.5,358.5 L752.5,340.5 L766.5,340.5 L770.5,368.5 L778.5,384.5" fill="none" stroke="#bba2bf" stroke-width="1"/>
<path d="M174.5,206.5 L174.5,225.5 L177.5,232.5 L187.5,236.5 L191.5,243.5 L195.5,249.5 L199.5,253.5 L211.5,264.5 L224.5,278.5 L233.5,288.5 L235.5,302.5 L241.5,312.5" fill="none" stroke="#d5c6d5" stroke-width="1"/>
<path d="M288.5,206.5 L288.5,312.5" fill="none" stroke="#d5c6d5" stroke-width="1"/>
<path d="M381.5,206.5 L386.5,312.5" fill="none" stroke="#d5c6d5" stroke-width="1"/>
<path d="M456.5,312.5 L456.5,242.5 L490.5,206.5" fill="none" stroke="#d5c6d5" stroke-width="1"/>
<path d="M634.5,269.5 L634.5,338.5 L638.5,350.5 L643.5,357.5 L659.5,362.5 L666.5,368.5 L669.5,372.5 L677.5,371.5 L691.5,369.5 L692.5,375.5 L687.5,379.5" fill="none" stroke="#d5c6d5" stroke-width="1"/>
<path d="M768.5,206.5 L767.5,215.5 L771.5,225.5 L775.5,233.5 L783.5,246.5 L795.5,252.5 L805.5,265.5 L810.5,250.5 L815.5,245.5 L813.5,259.5 L850.5,259.5" fill="none" stroke="#d5c6d5" stroke-width="1"/>
<path d="M757.5,340.5 L761.5,330.5 L786.5,328.5 L802.5,328.5" fill="none" stroke="#d5c6d5" stroke-width="1"/>
<path d="M124.5,358.5 L140.5,364.5 L165.5,364.5 L207.5,363.5" fill="none" stroke="#d5c6d5" stroke-width="1"/>
<path d="M208.5,312.5 L208.5,363.5" fill="none" stroke="#d5c6d5" stroke-width="1"/>
<path d="M217.5,312.5 L220.5,325.5 L236.5,352.5 L238.5,368.5 L252.5,387.5 L275.5,384.5" fill="none" stroke="#d5c6d5" stroke-width="1"/>
<path d="M207.5,363.5 L212.5,376.5 L206.5,390.5 L207.5,426.5" fill="none" stroke="#d5c6d5" stroke-width="1"/>
<path d="M124.5,426.5 L242.5,426.5 L275.5,426.5" fill="none" stroke="#d5c6d5" stroke-width="1"/>
<path d="M174.5,426.5 L174.5,471.5 L236.5,528.5 L234.5,560.5" fill="none" stroke="#d5c6d5" stroke-width="1"/>
<path d="M242.5,426.5 L242.5,500.5" fill="none" stroke="#d5c6d5" stroke-width="1"/>
<path d="M275.5,379.5 L355.5,379.5" fill="none" stroke="#d5c6d5" stroke-width="1"/>
<path d="M275.5,379.5 L275.5,442.5" fill="none" stroke="#d5c6d5" stroke-width="1"/>
<path d="M298.5,442.5 L298.5,500.5" fill="none" stroke="#d5c6d5" stroke-width="1"/>
<path d="M355.5,312.5 L355.5,411.5" fill="none" stroke="#d5c6d5" stroke-width="1"/>
<path d="M356.5,364.5 L440.5,364.5" fill="none" stroke="#d5c6d5" stroke-width="1"/>
<path d="M433.5,312.5 L435.5,325.5 L438.5,345.5 L440.5,364.5" fill="none" stroke="#d5c6d5" stroke-width="1"/>
<path d="M355.5,411.5 L420.5,411.5 L440.5,414.5" fill="none" stroke="#d5c6d5" stroke-width="1"/>
<path d="M275.5,442.5 L378.5,442.5" fill="none" stroke="#d5c6d5" stroke-width="1"/>
<path d="M242.5,500.5 L366.5,500.5" fill="none" stroke="#d5c6d5" stroke-width="1"/>
<path d="M298.5,500.5 L298.5,578.5" fill="none" stroke="#d5c6d5" stroke-width="1"/>
<path d="M378.5,442.5 L378.5,500.5" fill="none" stroke="#d5c6d5" stroke-width="1"/>
<path d="M378.5,456.5 L454.5,456.5" fill="none" stroke="#d5c6d5" stroke-width="1"/>
<path d="M366.5,500.5 L463.5,500.5" fill="none" stroke="#d5c6d5" stroke-width="1"/>
<path d="M366.5,500.5 L366.5,569.5" fill="none" stroke="#d5c6d5" stroke-width="1"/>
<path d="M325.5,569.5 L366.5,569.5" fill="none" stroke="#d5c6d5" stroke-width="1"/>
<path d="M401.5,507.5 L401.5,534.5 L432.5,544.5 L468.5,548.5" fill="none" stroke="#d5c6d5" stroke-width="1"/>
<path d="M468.5,548.5 L470.5,595.5" fill="none" stroke="#d5c6d5" stroke-width="1"/>
<path d="M469.5,555.5 L501.5,555.5" fill="none" stroke="#d5c6d5" stroke-width="1"/>
<path d="M462.5,507.5 L512.5,507.5" fill="none" stroke="#d5c6d5" stroke-width="1"/>
<path d="M462.5,469.5 L462.5,507.5" fill="none" stroke="#d5c6d5" stroke-width="1"/>
<path d="M440.5,364.5 L440.5,406.5 L448.5,426.5 L450.5,447.5 L462.5,469.5" fill="none" stroke="#d5c6d5" stroke-width="1"/>
<path d="M450.5,448.5 L497.5,448.5" fill="none" stroke="#d5c6d5" stroke-width="1"/>
<path d="M440.5,403.5 L500.5,403.5" fill="none" stroke="#d5c6d5" stroke-width="1"/>
<path d="M491.5,352.5 L484.5,368.5 L485.5,385.5 L500.5,404.5" fill="none" stroke="#d5c6d5" stroke-width="1"/>
<path d="M500.5,404.5 L501.5,410.5 L509.5,418.5 L503.5,436.5 L498.5,453.5 L509.5,467.5 L515.5,481.5 L525.5,499.5 L515.5,514.5 L513.5,530.5 L501.5,554.5 L496.5,583.5 L500.5,598.5" fill="none" stroke="#d5c6d5" stroke-width="1"/>
<path d="M501.5,418.5 L543.5,418.5" fill="none" stroke="#d5c6d5" stroke-width="1"/>
<path d="M543.5,430.5 L602.5,430.5" fill="none" stroke="#d5c6d5" stroke-width="1"/>
<path d="M592.5,532.5 L602.5,546.5 L616.5,566.5" fill="none" stroke="#d5c6d5" stroke-width="1"/>
<path d="M496.5,583.5 L519.5,583.5" fill="none" stroke="#d5c6d5" stroke-width="1"/>
<path d="M543.5,418.5 L543.5,475.5" fill="none" stroke="#d5c6d5" stroke-width="1"/>
<path d="M574.5,428.5 L574.5,475.5" fill="none" stroke="#d5c6d5" stroke-width="1"/>
<path d="M525.5,499.5 L537.5,487.5 L553.5,485.5 L572.5,475.5 L590.5,477.5 L602.5,471.5 L610.5,461.5 L622.5,447.5" fill="none" stroke="#d5c6d5" stroke-width="1"/>
<path d="M510.5,505.5 L676.5,505.5" fill="none" stroke="#d5c6d5" stroke-width="1"/>
<path d="M512.5,528.5 L592.5,528.5 L615.5,530.5 L640.5,550.5" fill="none" stroke="#d5c6d5" stroke-width="1"/>
<path d="M535.5,528.5 L535.5,590.5" fill="none" stroke="#d5c6d5" stroke-width="1"/>
<path d="M565.5,528.5 L575.5,570.5 L572.5,590.5" fill="none" stroke="#d5c6d5" stroke-width="1"/>
<path d="M560.5,586.5 L614.5,586.5" fill="none" stroke="#d5c6d5" stroke-width="1"/>
<path d="M632.5,426.5 L685.5,426.5" fill="none" stroke="#d5c6d5" stroke-width="1"/>
<path d="M622.5,460.5 L678.5,460.5" fill="none" stroke="#d5c6d5" stroke-width="1"/>
<path d="M622.5,433.5 L622.5,460.5" fill="none" stroke="#d5c6d5" stroke-width="1"/>
<path d="M600.5,481.5 L606.5,493.5 L618.5,495.5 L632.5,481.5 L643.5,471.5 L651.5,463.5" fill="none" stroke="#d5c6d5" stroke-width="1"/>
<path d="M700.5,378.5 L703.5,440.5" fill="none" stroke="#d5c6d5" stroke-width="1"/>
<path d="M716.5,378.5 L712.5,410.5 L711.5,440.5" fill="none" stroke="#d5c6d5" stroke-width="1"/>
<path d="M700.5,426.5 L733.5,426.5" fill="none" stroke="#d5c6d5" stroke-width="1"/>
<path d="M700.5,436.5 L722.5,436.5" fill="none" stroke="#d5c6d5" stroke-width="1"/>
<path d="M206.5,562.5 L234.5,560.5 L232.5,564.5 L274.5,578.5 L308.5,578.5 L308.5,572.5 L326.5,572.5 L339.5,584.5 L349.5,596.5 L355.5,605.5 L365.5,609.5 L371.5,599.5 L383.5,599.5 L392.5,605.5 L404.5,625.5 L410.5,639.5 L416.5,645.5 L434.5,648.5" fill="none" stroke="#bba2bf" stroke-width="1"/>
<path d="M25.5,236.5 L46.5,261.5 L80.5,290.5" fill="none" stroke="#d5c6d5" stroke-width="1"/>
<path d="M25.5,208.5 L40.5,213.5 L55.5,208.5" fill="none" stroke="#d5c6d5" stroke-width="1"/>
<path d="M636.5,632.6 L646.7,628.5 L661.1,634.7 L673.4,653.1 L689.8,667.5 L704.1,683.9 L714.3,694.1 L710.2,708.5 L700.0,710.5 L689.8,702.3 L671.3,692.1 L642.6,679.8 L622.1,673.6 L632.4,657.2Z" fill="none" stroke="#b7a2c0" stroke-width="1"/>
<path d="M714.3,696.2 L722.5,695.1 L732.8,702.3 L730.7,708.5 L718.4,709.5 L714.3,702.3Z" fill="none" stroke="#b7a2c0" stroke-width="1"/>
<path d="M717.0,715.0 L738.0,706.0 L760.0,720.0 L765.0,745.0 L745.0,750.0 L725.0,752.0Z" fill="none" stroke="#b7a2c0" stroke-width="1"/>
<ellipse cx="595.5" cy="664.4" rx="3" ry="2.5" fill="none" stroke="#a893b6" stroke-width="1"/>
<ellipse cx="613.9" cy="729" rx="3" ry="2.5" fill="none" stroke="#a893b6" stroke-width="1"/>
<ellipse cx="629.3" cy="724.9" rx="3.5" ry="2.5" fill="none" stroke="#a893b6" stroke-width="1"/>
<ellipse cx="584.2" cy="752.5" rx="2.5" ry="2.5" fill="none" stroke="#a893b6" stroke-width="1"/>
<ellipse cx="630.3" cy="771.6" rx="2.5" ry="2.5" fill="none" stroke="#a893b6" stroke-width="1"/>
<ellipse cx="644.7" cy="771" rx="2.5" ry="2.5" fill="none" stroke="#a893b6" stroke-width="1"/>
<ellipse cx="616" cy="788.4" rx="2.5" ry="3.5" fill="none" stroke="#a893b6" stroke-width="1"/>
<ellipse cx="626.2" cy="788.4" rx="3" ry="3" fill="none" stroke="#a893b6" stroke-width="1"/>
<ellipse cx="612.9" cy="799.6" rx="2.5" ry="3" fill="none" stroke="#a893b6" stroke-width="1"/>
<ellipse cx="627.9" cy="798.6" rx="2.5" ry="2.5" fill="none" stroke="#a893b6" stroke-width="1"/>
<ellipse cx="685.7" cy="740.2" rx="2.5" ry="2.5" fill="none" stroke="#a893b6" stroke-width="1"/>
<ellipse cx="825" cy="756" rx="3.5" ry="3" fill="none" stroke="#a893b6" stroke-width="1"/>
<ellipse cx="830" cy="762" rx="3" ry="3" fill="none" stroke="#a893b6" stroke-width="1"/>
<ellipse cx="838" cy="770" rx="5" ry="4.5" fill="none" stroke="#a893b6" stroke-width="1"/>
<ellipse cx="843" cy="778" rx="3.5" ry="4" fill="none" stroke="#a893b6" stroke-width="1"/>
<ellipse cx="846" cy="787" rx="4" ry="4" fill="none" stroke="#a893b6" stroke-width="1"/>
<ellipse cx="845" cy="797" rx="3.5" ry="4" fill="none" stroke="#a893b6" stroke-width="1"/>
<ellipse cx="847" cy="808" rx="3.5" ry="4" fill="none" stroke="#a893b6" stroke-width="1"/>
<ellipse cx="825" cy="745" rx="3" ry="3" fill="none" stroke="#a893b6" stroke-width="1"/>
<ellipse cx="819" cy="739" rx="3" ry="3" fill="none" stroke="#a893b6" stroke-width="1"/>
<ellipse cx="800" cy="738" rx="3" ry="3" fill="none" stroke="#a893b6" stroke-width="1"/>
<ellipse cx="802.2" cy="564.8" rx="4" ry="3" fill="none" stroke="#a893b6" stroke-width="1"/>
<ellipse cx="498.5" cy="695" rx="3" ry="2.5" fill="none" stroke="#a893b6" stroke-width="1"/>
<ellipse cx="489.4" cy="710.5" rx="3" ry="3" fill="none" stroke="#a893b6" stroke-width="1"/>
<ellipse cx="492.1" cy="718.8" rx="3" ry="3" fill="none" stroke="#a893b6" stroke-width="1"/>
<ellipse cx="517.7" cy="691.4" rx="3" ry="4" fill="none" stroke="#a893b6" stroke-width="1"/>
<ellipse cx="596.2" cy="664" rx="4" ry="3" fill="none" stroke="#a893b6" stroke-width="1"/>
<ellipse cx="583.8" cy="752.5" rx="3" ry="2.5" fill="none" stroke="#a893b6" stroke-width="1"/>
<ellipse cx="193" cy="609" rx="2.5" ry="3.5" fill="none" stroke="#a893b6" stroke-width="1"/>
<ellipse cx="221.7" cy="660.3" rx="2.5" ry="2.5" fill="none" stroke="#a893b6" stroke-width="1"/>
<ellipse cx="263.7" cy="733.7" rx="2.5" ry="2.5" fill="none" stroke="#a893b6" stroke-width="1"/>
<ellipse cx="278" cy="730" rx="2.5" ry="2.5" fill="none" stroke="#a893b6" stroke-width="1"/>
<ellipse cx="276" cy="736" rx="3" ry="3" fill="none" stroke="#a893b6" stroke-width="1"/>
<ellipse cx="215" cy="637" rx="2.5" ry="2.5" fill="none" stroke="#a893b6" stroke-width="1"/>
<g font-family="Liberation Sans, sans-serif">
<text x="659.2" y="367" fill="#333" stroke="#fff" stroke-width="2.5" stroke-opacity="0.8" paint-order="stroke" font-size="11.5" textLength="37.5" lengthAdjust="spacingAndGlyphs">Ottawa</text>
<text x="615.6" y="397.7" fill="#333" stroke="#fff" stroke-width="2.5" stroke-opacity="0.8" paint-order="stroke" font-size="11.5" textLength="39.4" lengthAdjust="spacingAndGlyphs">Toronto</text>
<text x="673.2" y="457.8" fill="#333" stroke="#fff" stroke-width="2.5" stroke-opacity="0.8" paint-order="stroke" font-size="11.5" textLength="48" lengthAdjust="spacingAndGlyphs">New York</text>
<text x="631.8" y="488.2" fill="#333" stroke="#fff" stroke-width="2.5" stroke-opacity="0.8" paint-order="stroke" font-size="11.5" textLength="61.9" lengthAdjust="spacingAndGlyphs">Washington</text>
<text x="375" y="507.4" fill="#71577f" stroke="#fff" stroke-width="2.5" stroke-opacity="0.8" paint-order="stroke" font-size="11.5" textLength="75" lengthAdjust="spacingAndGlyphs">United States</text>
<text x="163" y="555" fill="#333" stroke="#fff" stroke-width="2.5" stroke-opacity="0.8" paint-order="stroke" font-size="11.5" textLength="62" lengthAdjust="spacingAndGlyphs">Los Angeles</text>
<text x="243" y="546" fill="#333" stroke="#fff" stroke-width="2.5" stroke-opacity="0.8" paint-order="stroke" font-size="11.5" textLength="41.6" lengthAdjust="spacingAndGlyphs">Phoenix</text>
<text x="356.4" y="682.8" fill="#71577f" stroke="#fff" stroke-width="2.5" stroke-opacity="0.8" paint-order="stroke" font-size="11.5" textLength="37.9" lengthAdjust="spacingAndGlyphs">México</text>
<text x="393.2" y="709.5" fill="#333" stroke="#fff" stroke-width="2.5" stroke-opacity="0.8" paint-order="stroke" font-size="11.5" textLength="35.5" lengthAdjust="spacingAndGlyphs">Ciudad</text>
<text x="385" y="723.2" fill="#333" stroke="#fff" stroke-width="2.5" stroke-opacity="0.8" paint-order="stroke" font-size="11.5" textLength="51.9" lengthAdjust="spacingAndGlyphs">de México</text>
<text x="540.8" y="688" fill="#333" stroke="#fff" stroke-width="2.5" stroke-opacity="0.8" paint-order="stroke" font-size="11.5" textLength="56" lengthAdjust="spacingAndGlyphs">La Habana</text>
<text x="621.7" y="676" fill="#71577f" stroke="#fff" stroke-width="2.5" stroke-opacity="0.8" paint-order="stroke" font-size="11.5" textLength="74.2" lengthAdjust="spacingAndGlyphs">The Bahamas</text>
<text x="613.5" y="707.8" fill="#71577f" stroke="#fff" stroke-width="2.5" stroke-opacity="0.8" paint-order="stroke" font-size="11.5" textLength="28.1" lengthAdjust="spacingAndGlyphs">Cuba</text>
<text x="642.6" y="761.7" fill="#333" stroke="#fff" stroke-width="2.5" stroke-opacity="0.8" paint-order="stroke" font-size="11.5" textLength="45.1" lengthAdjust="spacingAndGlyphs">Kingston</text>
<text x="715.4" y="729" fill="#71577f" stroke="#fff" stroke-width="2.5" stroke-opacity="0.8" paint-order="stroke" font-size="11.5" textLength="53.9" lengthAdjust="spacingAndGlyphs">República</text>
<text x="709.2" y="742.3" fill="#71577f" stroke="#fff" stroke-width="2.5" stroke-opacity="0.8" paint-order="stroke" font-size="11.5" textLength="65.6" lengthAdjust="spacingAndGlyphs">Dominicana</text>
<text x="467" y="783.2" fill="#333" stroke="#fff" stroke-width="2.5" stroke-opacity="0.8" paint-order="stroke" font-size="11.5" textLength="35.9" lengthAdjust="spacingAndGlyphs">Ciudad</text>
<text x="430.7" y="796.6" fill="#333" stroke="#fff" stroke-width="2.5" stroke-opacity="0.8" paint-order="stroke" font-size="11.5" textLength="72.2" lengthAdjust="spacingAndGlyphs">de Guatemala</text>
<text x="528.5" y="788.4" fill="#71577f" stroke="#fff" stroke-width="2.5" stroke-opacity="0.8" paint-order="stroke" font-size="11.5" textLength="54" lengthAdjust="spacingAndGlyphs">Honduras</text>
<text x="538.7" y="812" fill="#71577f" stroke="#fff" stroke-width="2.5" stroke-opacity="0.8" paint-order="stroke" font-size="11.5" textLength="54" lengthAdjust="spacingAndGlyphs">Nicaragua</text>
</g>
<circle cx="678" cy="372.7" r="3.2" fill="#fff" stroke="#333" stroke-width="1"/><circle cx="678" cy="372.7" r="1.2" fill="#333"/>
<circle cx="661.8" cy="473" r="3.2" fill="#fff" stroke="#333" stroke-width="1"/><circle cx="661.8" cy="473" r="1.2" fill="#333"/>
<circle cx="410.7" cy="729" r="3.2" fill="#fff" stroke="#333" stroke-width="1"/><circle cx="410.7" cy="729" r="1.2" fill="#333"/>
<circle cx="601.6" cy="682.8" r="3.2" fill="#fff" stroke="#333" stroke-width="1"/><circle cx="601.6" cy="682.8" r="1.2" fill="#333"/>
<circle cx="664.5" cy="745.8" r="3.2" fill="#fff" stroke="#333" stroke-width="1"/><circle cx="664.5" cy="745.8" r="1.2" fill="#333"/>
<circle cx="508.6" cy="786" r="3.2" fill="#fff" stroke="#333" stroke-width="1"/><circle cx="508.6" cy="786" r="1.2" fill="#333"/>
<circle cx="264" cy="550" r="2.2" fill="#fff" stroke="#555" stroke-width="0.8"/>
<circle cx="636" cy="400.7" r="2.2" fill="#fff" stroke="#555" stroke-width="0.8"/>
<path d="M145.5,477.0 L155.3,485.1 L145.5,501.6 L135.8,485.1Z" fill="#f00" stroke="#000" stroke-width="1.35" stroke-linejoin="round"/><path d="M145.5,483.9 L148.0,486.4 L145.5,488.9 L143.0,486.4Z" fill="#000"/>
<path d="M151.5,483.0 L161.3,491.1 L151.5,507.6 L141.8,491.1Z" fill="#f00" stroke="#000" stroke-width="1.35" stroke-linejoin="round"/><path d="M151.5,489.9 L154.0,492.4 L151.5,494.9 L149.0,492.4Z" fill="#000"/>
<path d="M193.4,528.9 L203.2,537.0 L193.4,553.5 L183.7,537.0Z" fill="#f00" stroke="#000" stroke-width="1.35" stroke-linejoin="round"/><path d="M193.4,535.8 L195.9,538.3 L193.4,540.8 L190.9,538.3Z" fill="#000"/>
<path d="M426.4,580.1 L436.2,588.2 L426.4,604.7 L416.7,588.2Z" fill="#f00" stroke="#000" stroke-width="1.35" stroke-linejoin="round"/><path d="M426.4,587.0 L428.9,589.5 L426.4,592.0 L423.9,589.5Z" fill="#000"/>
<path d="M541.4,415.9 L551.2,424.0 L541.4,440.5 L531.7,424.0Z" fill="#f00" stroke="#000" stroke-width="1.35" stroke-linejoin="round"/><path d="M541.4,422.8 L543.9,425.3 L541.4,427.8 L538.9,425.3Z" fill="#000"/>
<path d="M607.5,430.1 L617.3,438.2 L607.5,454.7 L597.8,438.2Z" fill="#f00" stroke="#000" stroke-width="1.35" stroke-linejoin="round"/><path d="M607.5,437.0 L610.0,439.5 L607.5,442.0 L605.0,439.5Z" fill="#000"/>
<path d="M609.5,422.0 L619.3,430.1 L609.5,446.6 L599.8,430.1Z" fill="#f00" stroke="#000" stroke-width="1.35" stroke-linejoin="round"/><path d="M609.5,428.9 L612.0,431.4 L609.5,433.9 L607.0,431.4Z" fill="#000"/>
<path d="M691.4,435.8 L701.2,443.9 L691.4,460.4 L681.7,443.9Z" fill="#f00" stroke="#000" stroke-width="1.35" stroke-linejoin="round"/><path d="M691.4,442.7 L693.9,445.2 L691.4,447.7 L688.9,445.2Z" fill="#000"/>
<path d="M694.4,430.6 L704.2,438.7 L694.4,455.2 L684.7,438.7Z" fill="#f00" stroke="#000" stroke-width="1.35" stroke-linejoin="round"/><path d="M694.4,437.5 L696.9,440.0 L694.4,442.5 L691.9,440.0Z" fill="#000"/>
<path d="M679.4,434.9 L689.2,443.0 L679.4,459.5 L669.7,443.0Z" fill="#f00" stroke="#000" stroke-width="1.35" stroke-linejoin="round"/><path d="M679.4,441.8 L681.9,444.3 L679.4,446.8 L676.9,444.3Z" fill="#000"/>
<path d="M696.1,434.1 L705.9,442.2 L696.1,458.7 L686.4,442.2Z" fill="#f00" stroke="#000" stroke-width="1.35" stroke-linejoin="round"/><path d="M696.1,441.0 L698.6,443.5 L696.1,446.0 L693.6,443.5Z" fill="#000"/>
<path d="M706.4,431.1 L716.2,439.2 L706.4,455.7 L696.7,439.2Z" fill="#f00" stroke="#000" stroke-width="1.35" stroke-linejoin="round"/><path d="M706.4,438.0 L708.9,440.5 L706.4,443.0 L703.9,440.5Z" fill="#000"/>
<path d="M730.4,408.4 L740.2,416.5 L730.4,433.0 L720.7,416.5Z" fill="#f00" stroke="#000" stroke-width="1.35" stroke-linejoin="round"/><path d="M730.4,415.3 L732.9,417.8 L730.4,420.3 L727.9,417.8Z" fill="#000"/>
</g>
<rect x="32.2" y="213.2" width="25.6" height="46.5" rx="4" fill="#fff" fill-opacity="0.4"/>
<path d="M35,219 a3,3 0 0 1 3,-3 h14 a3,3 0 0 1 3,3 v16.8 h-20z" fill="#003c88" fill-opacity="0.5"/>
<path d="M35,237 h20 v16.9 a3,3 0 0 1 -3,3 h-14 a3,3 0 0 1 -3,-3z" fill="#003c88" fill-opacity="0.5"/>
<path d="M41,225.2 h7.6 M44.8,221.4 v7.6" stroke="#fff" stroke-width="2"/>
<path d="M41,246.9 h7.6" stroke="#fff" stroke-width="2"/>
<rect x="32.2" y="264.8" width="25.6" height="204.2" rx="4" fill="#fff" fill-opacity="0.4"/>
<rect x="35" y="424" width="20" height="10.1" rx="2" fill="#003c88" fill-opacity="0.5"/>
<rect x="758" y="769.1" width="71.8" height="18.8" rx="3.5" fill="#003c88" fill-opacity="0.33"/>
<path d="M761.7,772 V784.2 H826.5 V772" fill="none" stroke="#fff" stroke-width="1"/>
<text x="793.9" y="781.3" text-anchor="middle" font-family="Liberation Sans, sans-serif" font-size="10.2" fill="#fff" fill-opacity="0.9" textLength="33.6" lengthAdjust="spacingAndGlyphs">500 km</text><circle cx="815" cy="773" r="2.8" fill="none" stroke="#6a7fb0" stroke-width="0.8"/>
<rect x="1064" y="136.9" width="12" height="253.1" fill="#0066ff"/>
<rect x="1064" y="136.9" width="1" height="253.1" fill="#1a86ff"/>
<rect x="1064" y="136.9" width="11" height="1" fill="#1a86ff"/>
<rect x="1075" y="136.9" width="1" height="253.1" fill="#0048b8"/>
<rect x="1064" y="135.9" width="12" height="1" fill="#fffaf0" opacity="0.8"/>
<rect x="1069.7" y="390" width="1.6" height="7.2" fill="#000"/>
<text transform="translate(1077.3,401.2) rotate(-45)" text-anchor="end" font-size="12.9" fill="#111" textLength="75.2" lengthAdjust="spacingAndGlyphs">Los Angeles</text>
<rect x="1088" y="219.8" width="12" height="170.2" fill="#0066ff"/>
<rect x="1088" y="219.8" width="1" height="170.2" fill="#1a86ff"/>
<rect x="1088" y="219.8" width="11" height="1" fill="#1a86ff"/>
<rect x="1099" y="219.8" width="1" height="170.2" fill="#0048b8"/>
<rect x="1088" y="218.8" width="12" height="1" fill="#fffaf0" opacity="0.8"/>
<rect x="1093.7" y="390" width="1.6" height="7.2" fill="#000"/>
<text transform="translate(1101.3,401.2) rotate(-45)" text-anchor="end" font-size="12.9" fill="#111" textLength="72.0" lengthAdjust="spacingAndGlyphs">Long Island</text>
<rect x="1112" y="221.8" width="12" height="168.2" fill="#0066ff"/>
<rect x="1112" y="221.8" width="1" height="168.2" fill="#1a86ff"/>
<rect x="1112" y="221.8" width="11" height="1" fill="#1a86ff"/>
<rect x="1123" y="221.8" width="1" height="168.2" fill="#0048b8"/>
<rect x="1112" y="220.8" width="12" height="1" fill="#fffaf0" opacity="0.8"/>
<rect x="1117.7" y="390" width="1.6" height="7.2" fill="#000"/>
<text transform="translate(1125.3,401.2) rotate(-45)" text-anchor="end" font-size="12.9" fill="#111" textLength="61.7" lengthAdjust="spacingAndGlyphs">New York</text>
<rect x="1136" y="228.8" width="12" height="161.2" fill="#0066ff"/>
<rect x="1136" y="228.8" width="1" height="161.2" fill="#1a86ff"/>
<rect x="1136" y="228.8" width="11" height="1" fill="#1a86ff"/>
<rect x="1147" y="228.8" width="1" height="161.2" fill="#0048b8"/>
<rect x="1136" y="227.8" width="12" height="1" fill="#fffaf0" opacity="0.8"/>
<rect x="1141.7" y="390" width="1.6" height="7.2" fill="#000"/>
<text transform="translate(1149.3,401.2) rotate(-45)" text-anchor="end" font-size="12.9" fill="#111" textLength="86.5" lengthAdjust="spacingAndGlyphs">San Francisco</text>
<rect x="1160" y="247.8" width="12" height="142.2" fill="#0066ff"/>
<rect x="1160" y="247.8" width="1" height="142.2" fill="#1a86ff"/>
<rect x="1160" y="247.8" width="11" height="1" fill="#1a86ff"/>
<rect x="1171" y="247.8" width="1" height="142.2" fill="#0048b8"/>
<rect x="1160" y="246.8" width="12" height="1" fill="#fffaf0" opacity="0.8"/>
<rect x="1165.7" y="390" width="1.6" height="7.2" fill="#000"/>
<text transform="translate(1173.3,401.2) rotate(-45)" text-anchor="end" font-size="12.9" fill="#111" textLength="41.5" lengthAdjust="spacingAndGlyphs">Seville</text>
<rect x="1184" y="279.7" width="12" height="110.30000000000001" fill="#0066ff"/>
<rect x="1184" y="279.7" width="1" height="110.30000000000001" fill="#1a86ff"/>
<rect x="1184" y="279.7" width="11" height="1" fill="#1a86ff"/>
<rect x="1195" y="279.7" width="1" height="110.30000000000001" fill="#0048b8"/>
<rect x="1184" y="278.7" width="12" height="1" fill="#fffaf0" opacity="0.8"/>
<rect x="1189.7" y="390" width="1.6" height="7.2" fill="#000"/>
<text transform="translate(1197.3,401.2) rotate(-45)" text-anchor="end" font-size="12.9" fill="#111" textLength="54.9" lengthAdjust="spacingAndGlyphs">Paterson</text>
<rect x="1208" y="290.7" width="12" height="99.30000000000001" fill="#0066ff"/>
<rect x="1208" y="290.7" width="1" height="99.30000000000001" fill="#1a86ff"/>
<rect x="1208" y="290.7" width="11" height="1" fill="#1a86ff"/>
<rect x="1219" y="290.7" width="1" height="99.30000000000001" fill="#0048b8"/>
<rect x="1208" y="289.7" width="12" height="1" fill="#fffaf0" opacity="0.8"/>
<rect x="1213.7" y="390" width="1.6" height="7.2" fill="#000"/>
<text transform="translate(1221.3,401.2) rotate(-45)" text-anchor="end" font-size="12.9" fill="#111" textLength="53.4" lengthAdjust="spacingAndGlyphs">San Jose</text>
<rect x="1232" y="293.8" width="12" height="96.19999999999999" fill="#0066ff"/>
<rect x="1232" y="293.8" width="1" height="96.19999999999999" fill="#1a86ff"/>
<rect x="1232" y="293.8" width="11" height="1" fill="#1a86ff"/>
<rect x="1243" y="293.8" width="1" height="96.19999999999999" fill="#0048b8"/>
<rect x="1232" y="292.8" width="12" height="1" fill="#fffaf0" opacity="0.8"/>
<rect x="1237.7" y="390" width="1.6" height="7.2" fill="#000"/>
<text transform="translate(1245.3,401.2) rotate(-45)" text-anchor="end" font-size="12.9" fill="#111" textLength="39.6" lengthAdjust="spacingAndGlyphs">Austin</text>
<rect x="1256" y="300.8" width="12" height="89.19999999999999" fill="#0066ff"/>
<rect x="1256" y="300.8" width="1" height="89.19999999999999" fill="#1a86ff"/>
<rect x="1256" y="300.8" width="11" height="1" fill="#1a86ff"/>
<rect x="1267" y="300.8" width="1" height="89.19999999999999" fill="#0048b8"/>
<rect x="1256" y="299.8" width="12" height="1" fill="#fffaf0" opacity="0.8"/>
<rect x="1261.7" y="390" width="1.6" height="7.2" fill="#000"/>
<text transform="translate(1269.3,401.2) rotate(-45)" text-anchor="end" font-size="12.9" fill="#111" textLength="62.3" lengthAdjust="spacingAndGlyphs">Allentown</text>
<rect x="1280" y="303.9" width="12" height="86.10000000000002" fill="#0066ff"/>
<rect x="1280" y="303.9" width="1" height="86.10000000000002" fill="#1a86ff"/>
<rect x="1280" y="303.9" width="11" height="1" fill="#1a86ff"/>
<rect x="1291" y="303.9" width="1" height="86.10000000000002" fill="#0048b8"/>
<rect x="1280" y="302.9" width="12" height="1" fill="#fffaf0" opacity="0.8"/>
<rect x="1285.7" y="390" width="1.6" height="7.2" fill="#000"/>
<text transform="translate(1293.3,401.2) rotate(-45)" text-anchor="end" font-size="12.9" fill="#111" textLength="43.6" lengthAdjust="spacingAndGlyphs">Boston</text>
<rect x="1304" y="306.8" width="12" height="83.19999999999999" fill="#0066ff"/>
<rect x="1304" y="306.8" width="1" height="83.19999999999999" fill="#1a86ff"/>
<rect x="1304" y="306.8" width="11" height="1" fill="#1a86ff"/>
<rect x="1315" y="306.8" width="1" height="83.19999999999999" fill="#0048b8"/>
<rect x="1304" y="305.8" width="12" height="1" fill="#fffaf0" opacity="0.8"/>
<rect x="1309.7" y="390" width="1.6" height="7.2" fill="#000"/>
<text transform="translate(1317.3,401.2) rotate(-45)" text-anchor="end" font-size="12.9" fill="#111" textLength="65.8" lengthAdjust="spacingAndGlyphs">Little Rock</text>
<rect x="1328" y="311.7" width="12" height="78.30000000000001" fill="#0066ff"/>
<rect x="1328" y="311.7" width="1" height="78.30000000000001" fill="#1a86ff"/>
<rect x="1328" y="311.7" width="11" height="1" fill="#1a86ff"/>
<rect x="1339" y="311.7" width="1" height="78.30000000000001" fill="#0048b8"/>
<rect x="1328" y="310.7" width="12" height="1" fill="#fffaf0" opacity="0.8"/>
<rect x="1333.7" y="390" width="1.6" height="7.2" fill="#000"/>
<text transform="translate(1341.3,401.2) rotate(-45)" text-anchor="end" font-size="12.9" fill="#111" textLength="50.6" lengthAdjust="spacingAndGlyphs">Chicago</text>
<rect x="1352" y="312.9" width="12" height="77.10000000000002" fill="#0066ff"/>
<rect x="1352" y="312.9" width="1" height="77.10000000000002" fill="#1a86ff"/>
<rect x="1352" y="312.9" width="11" height="1" fill="#1a86ff"/>
<rect x="1363" y="312.9" width="1" height="77.10000000000002" fill="#0048b8"/>
<rect x="1352" y="311.9" width="12" height="1" fill="#fffaf0" opacity="0.8"/>
<rect x="1357.7" y="390" width="1.6" height="7.2" fill="#000"/>
<text transform="translate(1365.3,401.2) rotate(-45)" text-anchor="end" font-size="12.9" fill="#111" textLength="62.5" lengthAdjust="spacingAndGlyphs">Cleveland</text>
<rect x="1376" y="321.8" width="12" height="68.19999999999999" fill="#0066ff"/>
<rect x="1376" y="321.8" width="1" height="68.19999999999999" fill="#1a86ff"/>
<rect x="1376" y="321.8" width="11" height="1" fill="#1a86ff"/>
<rect x="1387" y="321.8" width="1" height="68.19999999999999" fill="#0048b8"/>
<rect x="1376" y="320.8" width="12" height="1" fill="#fffaf0" opacity="0.8"/>
<rect x="1381.7" y="390" width="1.6" height="7.2" fill="#000"/>
<text transform="translate(1389.3,401.2) rotate(-45)" text-anchor="end" font-size="12.9" fill="#111" textLength="70.2" lengthAdjust="spacingAndGlyphs">Piscataway</text>
<rect x="1400" y="322.9" width="12" height="67.10000000000002" fill="#0066ff"/>
<rect x="1400" y="322.9" width="1" height="67.10000000000002" fill="#1a86ff"/>
<rect x="1400" y="322.9" width="11" height="1" fill="#1a86ff"/>
<rect x="1411" y="322.9" width="1" height="67.10000000000002" fill="#0048b8"/>
<rect x="1400" y="321.9" width="12" height="1" fill="#fffaf0" opacity="0.8"/>
<rect x="1405.7" y="390" width="1.6" height="7.2" fill="#000"/>
<text transform="translate(1413.3,401.2) rotate(-45)" text-anchor="end" font-size="12.9" fill="#111" textLength="72.5" lengthAdjust="spacingAndGlyphs">Middletown</text>
<rect x="1053" y="389.60" width="5" height="1.4" fill="#000"/>
<text x="1043.0" y="393.9" font-size="12.9" fill="#111" textLength="7.77" lengthAdjust="spacingAndGlyphs">0</text>
<rect x="1053" y="349.34" width="5" height="1.4" fill="#000"/>
<text x="1000.4" y="353.6" font-size="12.9" fill="#111" textLength="50.41" lengthAdjust="spacingAndGlyphs">100,000</text>
<rect x="1053" y="309.08" width="5" height="1.4" fill="#000"/>
<text x="1000.4" y="313.4" font-size="12.9" fill="#111" textLength="50.41" lengthAdjust="spacingAndGlyphs">200,000</text>
<rect x="1053" y="268.82" width="5" height="1.4" fill="#000"/>
<text x="1000.4" y="273.1" font-size="12.9" fill="#111" textLength="50.41" lengthAdjust="spacingAndGlyphs">300,000</text>
<rect x="1053" y="228.56" width="5" height="1.4" fill="#000"/>
<text x="1000.4" y="232.9" font-size="12.9" fill="#111" textLength="50.41" lengthAdjust="spacingAndGlyphs">400,000</text>
<rect x="1053" y="188.30" width="5" height="1.4" fill="#000"/>
<text x="1000.4" y="192.6" font-size="12.9" fill="#111" textLength="50.41" lengthAdjust="spacingAndGlyphs">500,000</text>
<rect x="1053" y="148.04" width="5" height="1.4" fill="#000"/>
<text x="1000.4" y="152.3" font-size="12.9" fill="#111" textLength="50.41" lengthAdjust="spacingAndGlyphs">600,000</text>
<rect x="1053" y="107.78" width="5" height="1.4" fill="#000"/>
<text x="1000.4" y="112.1" font-size="12.9" fill="#111" textLength="50.41" lengthAdjust="spacingAndGlyphs">700,000</text>
<rect x="1057.2" y="111" width="1.9" height="280" fill="#6b6262"/>
<rect x="1057.2" y="389.3" width="356" height="1.9" fill="#6b6262"/>
<path d="M1052.9,117 L1058.2,108.3 L1063,117 L1058.2,113Z" fill="#6b6262"/>
<path d="M1410,385 L1419,390.3 L1410,395.5 L1413.5,390.3Z" fill="#6b6262"/>
<text x="1237.5" y="71" text-anchor="middle" font-size="25.5" font-weight="700" fill="#000" textLength="311.5" lengthAdjust="spacingAndGlyphs">Total Unit Sales By City</text>
<text transform="translate(990.6,248.3) rotate(-90)" text-anchor="middle" font-size="14.8" font-weight="700" fill="#000" textLength="130" lengthAdjust="spacingAndGlyphs">Number Of Units</text>
<rect x="1066" y="864.8" width="18" height="18.2" fill="#2bb5e8"/>
<rect x="1066" y="864.8" width="1" height="18.2" fill="#44e6ff"/>
<rect x="1066" y="864.8" width="18" height="1" fill="#44e6ff"/>
<rect x="1083" y="864.8" width="1" height="18.2" fill="#1f8cc0"/>
<rect x="1084" y="753.2" width="18" height="129.8" fill="#8bc23f"/>
<rect x="1084" y="753.2" width="1" height="129.8" fill="#b0f050"/>
<rect x="1084" y="753.2" width="18" height="1" fill="#b0f050"/>
<rect x="1101" y="753.2" width="1" height="129.8" fill="#5f8a2a"/>
<rect x="1102" y="753.2" width="18" height="129.8" fill="#fcd95e"/>
<rect x="1102" y="753.2" width="1" height="129.8" fill="#fff27a"/>
<rect x="1102" y="753.2" width="18" height="1" fill="#fff27a"/>
<rect x="1119" y="753.2" width="1" height="129.8" fill="#bfa040"/>
<rect x="1120" y="754" width="18" height="129.0" fill="#e23d44"/>
<rect x="1120" y="754" width="1" height="129.0" fill="#ff5058"/>
<rect x="1120" y="754" width="18" height="1" fill="#ff5058"/>
<rect x="1137" y="754" width="1" height="129.0" fill="#a02a30"/>
<rect x="1101.7" y="883" width="1.6" height="8" fill="#000"/>
<text x="1102.5" y="907.2" text-anchor="middle" font-size="12.9" fill="#111" textLength="60.56" lengthAdjust="spacingAndGlyphs">Galaxy S8</text>
<rect x="1156" y="875.1" width="18" height="7.9" fill="#2bb5e8"/>
<rect x="1156" y="875.1" width="1" height="7.9" fill="#44e6ff"/>
<rect x="1156" y="875.1" width="18" height="1" fill="#44e6ff"/>
<rect x="1173" y="875.1" width="1" height="7.9" fill="#1f8cc0"/>
<rect x="1174" y="802.1" width="18" height="80.9" fill="#8bc23f"/>
<rect x="1174" y="802.1" width="1" height="80.9" fill="#b0f050"/>
<rect x="1174" y="802.1" width="18" height="1" fill="#b0f050"/>
<rect x="1191" y="802.1" width="1" height="80.9" fill="#5f8a2a"/>
<rect x="1192" y="804.2" width="18" height="78.8" fill="#fcd95e"/>
<rect x="1192" y="804.2" width="1" height="78.8" fill="#fff27a"/>
<rect x="1192" y="804.2" width="18" height="1" fill="#fff27a"/>
<rect x="1209" y="804.2" width="1" height="78.8" fill="#bfa040"/>
<rect x="1210" y="807.9" width="18" height="75.1" fill="#e23d44"/>
<rect x="1210" y="807.9" width="1" height="75.1" fill="#ff5058"/>
<rect x="1210" y="807.9" width="18" height="1" fill="#ff5058"/>
<rect x="1227" y="807.9" width="1" height="75.1" fill="#a02a30"/>
<rect x="1191.7" y="883" width="1.6" height="8" fill="#000"/>
<text x="1192.5" y="907.2" text-anchor="middle" font-size="12.9" fill="#111" textLength="52.38" lengthAdjust="spacingAndGlyphs">iPhone X</text>
<rect x="1246" y="852.9" width="18" height="30.1" fill="#2bb5e8"/>
<rect x="1246" y="852.9" width="1" height="30.1" fill="#44e6ff"/>
<rect x="1246" y="852.9" width="18" height="1" fill="#44e6ff"/>
<rect x="1263" y="852.9" width="1" height="30.1" fill="#1f8cc0"/>
<rect x="1264" y="664" width="18" height="219.0" fill="#8bc23f"/>
<rect x="1264" y="664" width="1" height="219.0" fill="#b0f050"/>
<rect x="1264" y="664" width="18" height="1" fill="#b0f050"/>
<rect x="1281" y="664" width="1" height="219.0" fill="#5f8a2a"/>
<rect x="1282" y="646.9" width="18" height="236.1" fill="#fcd95e"/>
<rect x="1282" y="646.9" width="1" height="236.1" fill="#fff27a"/>
<rect x="1282" y="646.9" width="18" height="1" fill="#fff27a"/>
<rect x="1299" y="646.9" width="1" height="236.1" fill="#bfa040"/>
<rect x="1300" y="599.7" width="18" height="283.3" fill="#e23d44"/>
<rect x="1300" y="599.7" width="1" height="283.3" fill="#ff5058"/>
<rect x="1300" y="599.7" width="18" height="1" fill="#ff5058"/>
<rect x="1317" y="599.7" width="1" height="283.3" fill="#a02a30"/>
<rect x="1281.7" y="883" width="1.6" height="8" fill="#000"/>
<text x="1282.5" y="907.2" text-anchor="middle" font-size="12.9" fill="#111" textLength="49.75" lengthAdjust="spacingAndGlyphs">LG Wing</text>
<rect x="1336" y="867.2" width="18" height="15.8" fill="#2bb5e8"/>
<rect x="1336" y="867.2" width="1" height="15.8" fill="#44e6ff"/>
<rect x="1336" y="867.2" width="18" height="1" fill="#44e6ff"/>
<rect x="1353" y="867.2" width="1" height="15.8" fill="#1f8cc0"/>
<rect x="1354" y="723.9" width="18" height="159.1" fill="#8bc23f"/>
<rect x="1354" y="723.9" width="1" height="159.1" fill="#b0f050"/>
<rect x="1354" y="723.9" width="18" height="1" fill="#b0f050"/>
<rect x="1371" y="723.9" width="1" height="159.1" fill="#5f8a2a"/>
<rect x="1372" y="747" width="18" height="136.0" fill="#fcd95e"/>
<rect x="1372" y="747" width="1" height="136.0" fill="#fff27a"/>
<rect x="1372" y="747" width="18" height="1" fill="#fff27a"/>
<rect x="1389" y="747" width="1" height="136.0" fill="#bfa040"/>
<rect x="1390" y="774.7" width="18" height="108.3" fill="#e23d44"/>
<rect x="1390" y="774.7" width="1" height="108.3" fill="#ff5058"/>
<rect x="1390" y="774.7" width="18" height="1" fill="#ff5058"/>
<rect x="1407" y="774.7" width="1" height="108.3" fill="#a02a30"/>
<rect x="1371.7" y="883" width="1.6" height="8" fill="#000"/>
<text x="1372.5" y="907.2" text-anchor="middle" font-size="12.9" fill="#111" textLength="38.83" lengthAdjust="spacingAndGlyphs">Pixel 4</text>
<rect x="1052.1" y="882.50" width="5" height="1.4" fill="#000"/>
<text x="1041.6" y="886.7" font-size="12.9" fill="#111" textLength="7.77" lengthAdjust="spacingAndGlyphs">0</text>
<rect x="1052.1" y="849.40" width="5" height="1.4" fill="#000"/>
<text x="1014.5" y="853.6" font-size="12.9" fill="#111" textLength="34.89" lengthAdjust="spacingAndGlyphs">3,000</text>
<rect x="1052.1" y="816.30" width="5" height="1.4" fill="#000"/>
<text x="1014.5" y="820.5" font-size="12.9" fill="#111" textLength="34.89" lengthAdjust="spacingAndGlyphs">6,000</text>
<rect x="1052.1" y="783.20" width="5" height="1.4" fill="#000"/>
<text x="1014.5" y="787.4" font-size="12.9" fill="#111" textLength="34.89" lengthAdjust="spacingAndGlyphs">9,000</text>
<rect x="1052.1" y="750.10" width="5" height="1.4" fill="#000"/>
<text x="1006.7" y="754.3" font-size="12.9" fill="#111" textLength="42.66" lengthAdjust="spacingAndGlyphs">12,000</text>
<rect x="1052.1" y="717.00" width="5" height="1.4" fill="#000"/>
<text x="1006.7" y="721.2" font-size="12.9" fill="#111" textLength="42.66" lengthAdjust="spacingAndGlyphs">15,000</text>
<rect x="1052.1" y="683.90" width="5" height="1.4" fill="#000"/>
<text x="1006.7" y="688.1" font-size="12.9" fill="#111" textLength="42.66" lengthAdjust="spacingAndGlyphs">18,000</text>
<rect x="1052.1" y="650.80" width="5" height="1.4" fill="#000"/>
<text x="1006.7" y="655.0" font-size="12.9" fill="#111" textLength="42.66" lengthAdjust="spacingAndGlyphs">21,000</text>
<rect x="1052.1" y="617.70" width="5" height="1.4" fill="#000"/>
<text x="1006.7" y="621.9" font-size="12.9" fill="#111" textLength="42.66" lengthAdjust="spacingAndGlyphs">24,000</text>
<rect x="1052.1" y="584.60" width="5" height="1.4" fill="#000"/>
<text x="1006.7" y="588.8" font-size="12.9" fill="#111" textLength="42.66" lengthAdjust="spacingAndGlyphs">27,000</text>
<rect x="1056" y="588" width="1.9" height="296" fill="#6b6262"/>
<rect x="1056" y="882.2" width="356" height="1.9" fill="#6b6262"/>
<path d="M1052.1,594 L1056.9,585.6 L1061.9,594 L1056.9,590Z" fill="#6b6262"/>
<path d="M1410,877.9 L1419,883.2 L1410,888.5 L1413.5,883.2Z" fill="#6b6262"/>
<text x="1237.8" y="547.5" text-anchor="middle" font-size="25.5" font-weight="700" fill="#000" textLength="267" lengthAdjust="spacingAndGlyphs">Sales in Middletown</text>
<text transform="translate(996.3,733.2) rotate(-90)" text-anchor="middle" font-size="14.8" font-weight="700" fill="#000" textLength="79" lengthAdjust="spacingAndGlyphs">Units Sold</text>
<rect x="1456.9" y="707.9" width="7.2" height="7.1" fill="#2bb5e8"/>
<rect x="1456.9" y="707.9" width="1" height="7.1" fill="#44e6ff"/>
<rect x="1463.1" y="707.9" width="1" height="7.1" fill="#1f8cc0"/>
<rect x="1456.9" y="714.0" width="7.2" height="1" fill="#1f8cc0"/>
<text x="1471.6" y="716.0" font-size="11.7" fill="#111" textLength="27" lengthAdjust="spacingAndGlyphs">2010</text>
<rect x="1456.9" y="722.9" width="7.2" height="7.1" fill="#8bc23f"/>
<rect x="1456.9" y="722.9" width="1" height="7.1" fill="#b0f050"/>
<rect x="1463.1" y="722.9" width="1" height="7.1" fill="#5f8a2a"/>
<rect x="1456.9" y="729.0" width="7.2" height="1" fill="#5f8a2a"/>
<text x="1471.6" y="731.0" font-size="11.7" fill="#111" textLength="27" lengthAdjust="spacingAndGlyphs">2011</text>
<rect x="1456.9" y="737.9" width="7.2" height="7.1" fill="#fcd95e"/>
<rect x="1456.9" y="737.9" width="1" height="7.1" fill="#fff27a"/>
<rect x="1463.1" y="737.9" width="1" height="7.1" fill="#bfa040"/>
<rect x="1456.9" y="744.0" width="7.2" height="1" fill="#bfa040"/>
<text x="1471.6" y="746.0" font-size="11.7" fill="#111" textLength="27" lengthAdjust="spacingAndGlyphs">2012</text>
<rect x="1456.9" y="752.9" width="7.2" height="7.1" fill="#e23d44"/>
<rect x="1456.9" y="752.9" width="1" height="7.1" fill="#ff5058"/>
<rect x="1463.1" y="752.9" width="1" height="7.1" fill="#a02a30"/>
<rect x="1456.9" y="759.0" width="7.2" height="1" fill="#a02a30"/>
<text x="1471.6" y="761.0" font-size="11.7" fill="#111" textLength="27" lengthAdjust="spacingAndGlyphs">2013</text>
</svg>
<div class="t" style="left:136.3px;top:35.6px;font-size:40.15px;font-weight:700;line-height:46px">Insightful Inventory Management</div>
<div class="t" style="left:44.2px;top:146px;font-size:25.07px;line-height:29px">Explore sales trends. Drill down to see demand forecast by location.</div>
</body></html>
